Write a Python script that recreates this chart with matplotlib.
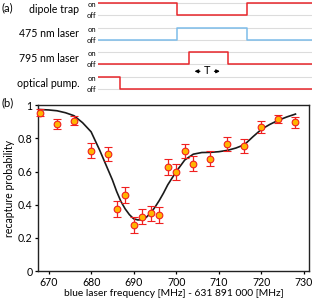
import matplotlib
matplotlib.use("Agg")
from matplotlib import pyplot as plt

plt.rcParams['font.family'] = ['Lato', 'DejaVu Sans']

# (a) pulse sequence: switching times (arbitrary units) and on/off states
seq_names = ['dipole trap', '475 nm laser', '795 nm laser', 'optical pump.']
seq_times = [
    [0, 79, 149, 214],
    [0, 79, 149, 214],
    [0, 91, 130, 214],
    [0, 22, 214],
]
seq_states = [
    [1, 0, 1, 1],
    [0, 1, 0, 0],
    [0, 1, 0, 0],
    [1, 0, 0],
]
seq_colors = ['#e8262b', '#7dbdea', '#e8262b', '#e8262b']

# (b) measured recapture probability
freq = [668, 672, 676, 680, 684, 686, 688, 690, 692, 694, 696,
        698, 700, 702, 704, 708, 712, 716, 720, 724, 728]
prob = [0.955, 0.887, 0.907, 0.726, 0.708, 0.376, 0.458, 0.278, 0.328, 0.348, 0.338,
        0.626, 0.597, 0.726, 0.648, 0.678, 0.768, 0.756, 0.867, 0.917, 0.897]
err = [0.02, 0.031, 0.028, 0.045, 0.042, 0.048, 0.05, 0.046, 0.045, 0.047, 0.048,
       0.047, 0.049, 0.043, 0.047, 0.045, 0.043, 0.041, 0.037, 0.026, 0.032]

# fit curve
fit_f = [667.6, 670, 672, 674, 676, 678, 680, 682, 684, 685, 686, 687, 688, 689, 690,
         691, 692, 693, 694, 695, 696, 697, 698, 700, 702, 704, 706, 708, 710, 712,
         714, 716, 718, 720, 722, 724, 726, 728]
fit_p = [0.975, 0.972, 0.967, 0.955, 0.937, 0.895, 0.84, 0.73, 0.61, 0.55, 0.48, 0.42,
         0.375, 0.34, 0.315, 0.308, 0.31, 0.325, 0.35, 0.385, 0.425, 0.47, 0.52, 0.60,
         0.67, 0.705, 0.715, 0.716, 0.72, 0.728, 0.742, 0.762, 0.81, 0.855, 0.885,
         0.91, 0.93, 0.947]

W, H = 312, 302
fig = plt.figure(figsize=(W / 100, H / 100), dpi=100)

# ---- panel (a) ----
ax_a = fig.add_axes([97.7 / W, (H - 100) / H, (W - 97.7) / W, 100 / H])
ax_a.set_xlim(0, 214.3)
ax_a.set_ylim(100, 0)
ax_a.axis('off')
row_on = [3.3, 28.0, 52.3, 77.3]
gap = 12.0
for i, name in enumerate(seq_names):
    y_on = row_on[i]
    y_off = y_on + gap
    ax_a.plot([0, 214.3], [y_on, y_on], color='#dcdcdc', lw=0.8, zorder=1)
    ax_a.plot([0, 214.3], [y_off, y_off], color='#dcdcdc', lw=0.8, zorder=1)
    ys = [y_on if s else y_off for s in seq_states[i]]
    ax_a.step(seq_times[i], ys, where='post', color=seq_colors[i], lw=1.1, zorder=2)
    ax_a.text(-6, y_on + 1.3, 'on', fontsize=5.5, ha='center', va='center', clip_on=False)
    ax_a.text(-6, y_off + 0.5, 'off', fontsize=5.5, ha='center', va='center', clip_on=False)
    ax_a.text(-18.5, y_on + 5.8, name, fontsize=7.6, ha='right', va='center', clip_on=False)

ax_a.annotate('', xy=(94, 71.3), xytext=(105, 71.3),
              arrowprops=dict(arrowstyle='-|>', color='black', lw=0.9, mutation_scale=5))
ax_a.annotate('', xy=(125, 71.3), xytext=(114, 71.3),
              arrowprops=dict(arrowstyle='-|>', color='black', lw=0.9, mutation_scale=5))
ax_a.text(109.5, 71.0, 'T', fontsize=7.8, ha='center', va='center')
fig.text(2 / W, 1 - 7.5 / H, '(a)', fontsize=8, ha='left', va='center')

# ---- panel (b) ----
ax = fig.add_axes([38.3 / W, (H - 271) / H, 271 / W, 165.7 / H])
ax.plot(fit_f, fit_p, color='#1a1a1a', lw=1.2, zorder=2)
ax.errorbar(freq, prob, yerr=err, fmt='o', color='#f02020', ecolor='#f02020',
            elinewidth=0.9, capsize=2.6, capthick=0.9,
            markerfacecolor='#ffb400', markeredgecolor='#f02020',
            markersize=4.8, markeredgewidth=0.8, zorder=3, clip_on=False)
ax.set_xlim(667.6, 731.25)
ax.set_ylim(0, 1)
ax.set_xticks([670, 680, 690, 700, 710, 720, 730])
ax.set_yticks([0, 0.2, 0.4, 0.6, 0.8, 1])
ax.set_yticklabels(['0', '0.2', '0.4', '0.6', '0.8', '1'])
ax.tick_params(direction='out', length=2.5, width=0.9, labelsize=7.6, pad=1.8)
for sp in ax.spines.values():
    sp.set_linewidth(1.0)
    sp.set_color('#222222')
ax.set_xlabel('blue laser frequency [MHz] - 631 891 000 [MHz]', fontsize=7.4, labelpad=1)
ax.set_ylabel('recapture probability', fontsize=7.6, labelpad=2)
fig.text(2 / W, 1 - 103 / H, '(b)', fontsize=8, ha='left', va='center')

fig.savefig('out.png', dpi=100)
